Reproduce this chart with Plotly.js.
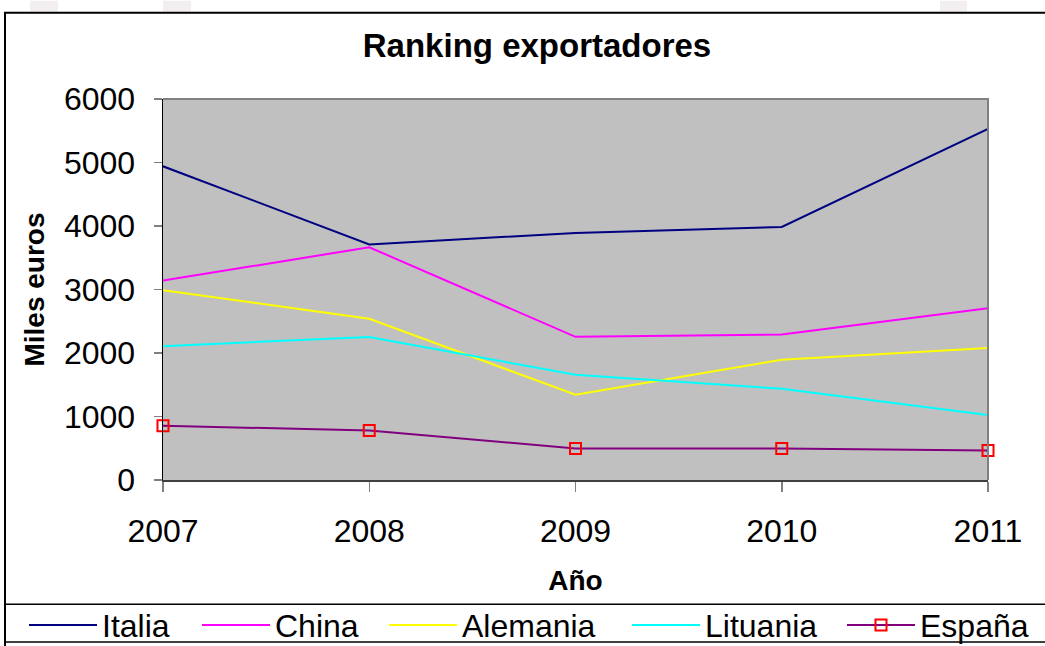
<!DOCTYPE html>
<html>
<head>
<meta charset="utf-8">
<script src="https://cdn.plot.ly/plotly-3.0.1.min.js"></script>
<style>html,body{margin:0;padding:0;background:#fff;}#chart{width:1045px;height:646px;}</style>
</head>
<body>
<div id="chart"></div>
<script>
const years = ['2007', '2008', '2009', '2010', '2011'];
const italia = [4940, 3710, 3890, 3985, 5530];
const china = [3140, 3665, 2255, 2290, 2705];
const alemania = [2990, 2540, 1342, 1895, 2078];
const lituania = [2108, 2253, 1656, 1436, 1025];
const espana = [856, 778, 498, 496, 465];
const seriesNames = ['Italia', 'China', 'Alemania', 'Lituania', 'España'];
const yTicks = [0, 1000, 2000, 3000, 4000, 5000, 6000];

const FONT = 'Liberation Sans, Arial, sans-serif';
const colors = ['#000080', '#FF00FF', '#FFFF00', '#00FFFF', '#800080'];
const values = [italia, china, alemania, lituania, espana];
const legendIds = ['legend', 'legend2', 'legend3', 'legend4', 'legend5'];
const legendLeft = [24, 197, 384, 627, 842];

// pixel -> paper helpers (plot area 163..988 x, 98.5..480.5 y)
const L = 163, R = 988, T = 98.5, B = 480.5;
const px = x => (x - L) / (R - L);
const py = y => (B - y) / (B - T);

const traces = values.map((v, i) => {
  const t = {
    x: years, y: v, name: seriesNames[i], type: 'scatter',
    mode: i === 4 ? 'lines+markers' : 'lines',
    line: {color: colors[i], width: 2},
    cliponaxis: false,
    legend: legendIds[i]
  };
  if (i === 4) {
    t.marker = {symbol: 'square-open', size: 11, color: '#FF0000', line: {color: '#FF0000', width: 2}};
  }
  return t;
});

const bgBlock = (x0, x1) => ({type: 'rect', xref: 'paper', yref: 'paper', x0: px(x0), x1: px(x1), y0: py(11), y1: py(0),
  line: {width: 0}, fillcolor: '#F3EFF1', layer: 'below'});

const layout = {
  width: 1045, height: 646,
  margin: {l: L, r: 1045 - R, t: T, b: 646 - B, pad: 0, autoexpand: false},
  paper_bgcolor: '#FFFFFF',
  plot_bgcolor: '#C0C0C0',
  font: {family: FONT, color: '#000000', size: 32},
  title: {text: '<b>Ranking exportadores</b>', font: {family: FONT, size: 33, color: '#000'},
          xref: 'container', x: 537/1045, xanchor: 'center', yref: 'container', y: 1 - 45/646, yanchor: 'middle',
          automargin: false},
  xaxis: {
    type: 'category', range: [0, 4], showgrid: false, zeroline: false, automargin: false,
    showline: true, linecolor: '#404040', linewidth: 2,
    ticks: 'outside', ticklen: 10, tickcolor: '#808080', tickwidth: 1.5,
    tickfont: {family: FONT, size: 32}, ticklabelstandoff: 12,
    title: {text: '<b>Año</b>', font: {family: FONT, size: 28}, standoff: 22}
  },
  yaxis: {
    range: [0, 6000], tickvals: yTicks, ticktext: yTicks.map(String),
    showgrid: false, zeroline: false, automargin: false,
    showline: true, linecolor: '#000000', linewidth: 1.5,
    ticks: 'outside', ticklen: 8, tickcolor: '#808080', tickwidth: 1.5,
    tickfont: {family: FONT, size: 32}, ticklabelstandoff: 12,
    title: {text: '<b>Miles euros</b>', font: {family: FONT, size: 28}, standoff: 11}
  },
  showlegend: true,
  shapes: [
    bgBlock(30, 58), bgBlock(163, 191), bgBlock(940, 967),
    {type: 'rect', xref: 'paper', yref: 'paper', x0: px(5), x1: px(1060), y0: py(12), y1: py(700),
     line: {color: '#000000', width: 2}, fillcolor: 'rgba(0,0,0,0)', layer: 'below'},
    {type: 'rect', xref: 'paper', yref: 'paper', x0: px(5), x1: px(1060), y0: py(605), y1: py(643),
     line: {color: '#000000', width: 1.5}, fillcolor: 'rgba(0,0,0,0)', layer: 'below'},
    {type: 'path', xref: 'paper', yref: 'paper', path: 'M0,1 L1,1 L1,0',
     line: {color: '#808080', width: 2}, layer: 'above'}
  ]
};

legendIds.forEach((id, i) => {
  layout[id] = {
    orientation: 'h', x: px(legendLeft[i]), xanchor: 'left', y: py(626), yanchor: 'middle',
    font: {family: FONT, size: 32}, bgcolor: 'rgba(0,0,0,0)', borderwidth: 0,
    itemwidth: 68
  };
});

Plotly.newPlot('chart', traces, layout, {displayModeBar: false, staticPlot: true});
</script>
</body>
</html>
